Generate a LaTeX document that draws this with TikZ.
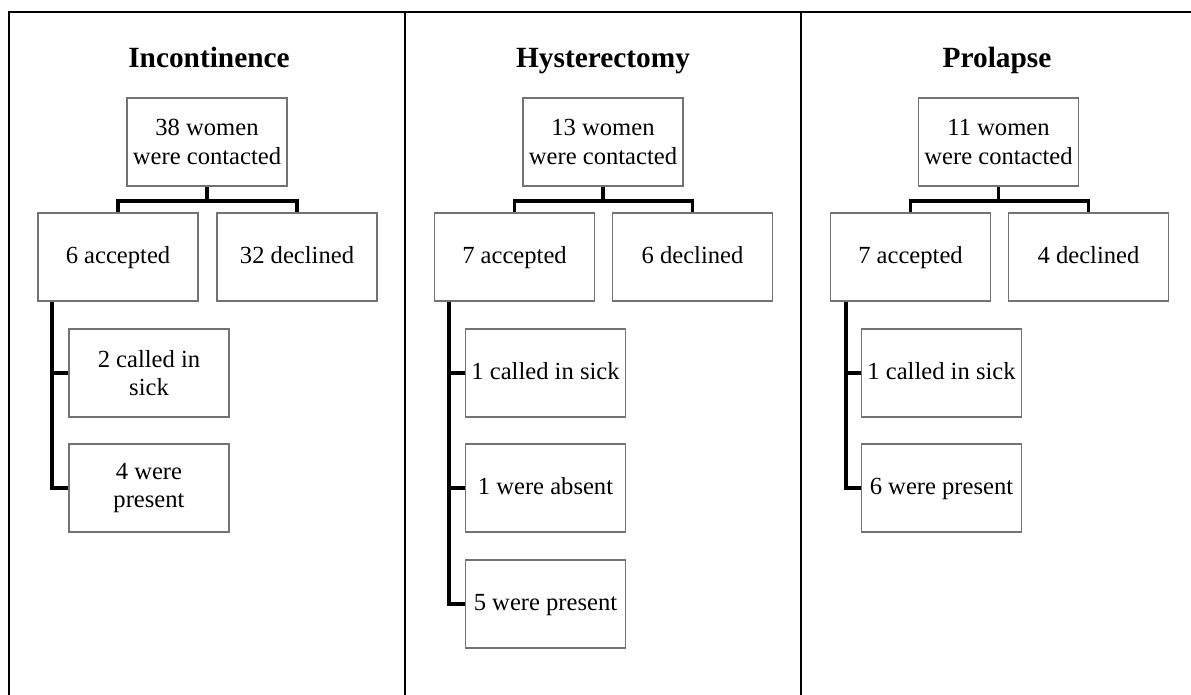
\documentclass[tikz,border=0pt]{standalone}
\usepackage{fontspec}
\setmainfont{Liberation Serif}
\usetikzlibrary{positioning}

\begin{document}
\begin{tikzpicture}[x=0.02cm,y=-0.02cm,
    box/.style={draw=black!55, line width=0.7pt, rectangle, align=center, minimum width=3.2cm, minimum height=1.76cm, inner sep=1pt, font=\fontsize{14}{16}\selectfont},
    oneline/.style={text height=10pt, text depth=3pt},
    heading/.style={anchor=base, font=\fontsize{16.7}{19}\selectfont\bfseries},
    link/.style={line width=2.2pt},
    frame/.style={line width=1.4pt}]
            \useasboundingbox (0,0) rectangle (1191,695);

            % outer frame and dividers
            \draw[frame] (9,695) -- (9,12) -- (1191,12);
            \draw[frame] (405,12) -- (405,695);
            \draw[frame] (801,12) -- (801,695);

            % Incontinence
            \node[heading] (head1) at (209,68) {Incontinence};
            \node[box] (top1) at (207,142) {38 women\\were contacted};
            \node[box, oneline] (acc1) at (118,257) {6 accepted};
            \node[box, oneline] (dec1) at (297,257) {32 declined};
            \node[box] (sick1) at (149,373) {2 called in\\sick};
            \node[box] (pres1) at (149,488) {4 were\\present};

            \draw[link] (top1.south) -- ++(0,14) -| (acc1.north);
            \draw[link] (top1.south) -- ++(0,14) -| (dec1.north);
            \draw[link] ([xshift=0.3cm]acc1.south west) |- (sick1.west);
            \draw[link] ([xshift=0.3cm]acc1.south west) |- (pres1.west);

            % Hysterectomy
            \node[heading] (head2) at (603,68) {Hysterectomy};
            \node[box] (top2) at (603,142) {13 women\\were contacted};
            \node[box, oneline] (acc2) at (514.5,257) {7 accepted};
            \node[box, oneline] (dec2) at (692.5,257) {6 declined};
            \node[box, oneline] (sick2) at (545.5,373) {1 called in sick};
            \node[box, oneline] (abs2) at (545.5,488) {1 were absent};
            \node[box, oneline] (pres2) at (545.5,604) {5 were present};

            \draw[link] (top2.south) -- ++(0,14) -| (acc2.north);
            \draw[link] (top2.south) -- ++(0,14) -| (dec2.north);
            \draw[link] ([xshift=0.3cm]acc2.south west) |- (sick2.west);
            \draw[link] ([xshift=0.3cm]acc2.south west) |- (abs2.west);
            \draw[link] ([xshift=0.3cm]acc2.south west) |- (pres2.west);

            % Prolapse
            \node[heading] (head3) at (997,68) {Prolapse};
            \node[box] (top3) at (998.5,142) {11 women\\were contacted};
            \node[box, oneline] (acc3) at (910.5,257) {7 accepted};
            \node[box, oneline] (dec3) at (1088.5,257) {4 declined};
            \node[box, oneline] (sick3) at (941.5,373) {1 called in sick};
            \node[box, oneline] (pres3) at (941.5,488) {6 were present};

            \draw[link] (top3.south) -- ++(0,14) -| (acc3.north);
            \draw[link] (top3.south) -- ++(0,14) -| (dec3.north);
            \draw[link] ([xshift=0.32cm]acc3.south west) |- (sick3.west);
            \draw[link] ([xshift=0.32cm]acc3.south west) |- (pres3.west);
        \end{tikzpicture}
\end{document}
